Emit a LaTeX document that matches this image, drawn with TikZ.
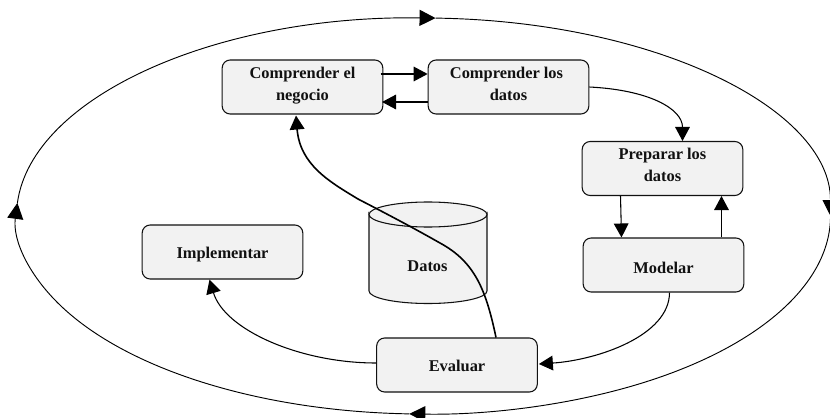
\documentclass[tikz,border=0pt]{standalone}
\usepackage{fontspec}
\setmainfont{Liberation Serif}
\usetikzlibrary{arrows.meta,calc}
\definecolor{boxfill}{HTML}{F2F2F2}
\definecolor{ink}{HTML}{111111}
\newcommand{\liftup}{\rule[-5.5pt]{0pt}{0pt}}
\tikzset{
  stagebox/.style={draw=ink,fill=boxfill,line width=.8pt,rounded corners=6pt,
    minimum width=120.5pt,minimum height=40.5pt,inner sep=0pt,align=center,
    font=\fontsize{12.3}{16.5}\selectfont\bfseries,text=ink},
  flow/.style={draw=black,line width=.8pt,-{Triangle[length=10.5pt,width=11pt]}},
  thickflow/.style={draw=black,line width=1.2pt,-{Triangle[length=10.5pt,width=11pt]}},
  ring/.style={draw=black,line width=.7pt,-{Triangle[length=12pt,width=12pt]}},
  cylbody/.style={draw=ink,fill=boxfill,line width=.8pt},
  lbl/.style={font=\fontsize{12.3}{16.5}\selectfont\bfseries,text=ink,inner sep=0pt}
}
\begin{document}
\begin{tikzpicture}[x=.75pt,y=.75pt]
\useasboundingbox (0,0) rectangle (830,-417);
% outer cycle
\coordinate (ringc) at (423.5,-216);
\draw[ring] (ringc) ++(268:407 and 198) arc[start angle=268,end angle=176.2,x radius=407,y radius=198];
\draw[ring] (ringc) ++(176.2:407 and 198) arc[start angle=176.2,end angle=88.3,x radius=407,y radius=198];
\draw[ring] (ringc) ++(88.3:407 and 198) arc[start angle=88.3,end angle=0,x radius=407,y radius=198];
\draw[ring] (ringc) ++(0:407 and 198) arc[start angle=0,end angle=-92,x radius=407,y radius=198];
% boxes
\node[stagebox] (negocio) at (302.5,-87) {Comprender el\\negocio\liftup};
\node[stagebox] (comdatos) at (508.5,-87) {\hspace*{-3pt}Comprender los\\datos\liftup};
\node[stagebox] (preparar) at (662.5,-168.5) {Preparar los\\datos\liftup};
\node[stagebox] (modelar) at (663.5,-265) {\rule{0pt}{13pt}Modelar};
\node[stagebox] (evaluar) at (457,-365) {\rule{0pt}{10pt}Evaluar};
\node[stagebox] (implementar) at (222.5,-252) {\rule{0pt}{13pt}Implementar};
% database
\path[cylbody] (369,-214) arc[start angle=180,end angle=360,x radius=59,y radius=12.5]
  -- (487,-291) arc[start angle=0,end angle=-180,x radius=59,y radius=12.5] -- cycle;
\path[cylbody] (428,-214.5) ellipse[x radius=59,y radius=12.5];
\node[lbl] (datos) at (427.5,-266) {Datos};
% connectors
\draw[flow] ([yshift=9.75pt,xshift=-2pt]negocio.east) -- ([yshift=9.75pt]comdatos.west);
\draw[flow] ([yshift=-11.25pt]comdatos.west) -- ([yshift=-11.25pt,xshift=-1pt]negocio.east);
\draw[flow] (comdatos.east) .. controls +(60,-3) and ($(preparar.north)+(20,32)$) .. ($(preparar.north)+(20,0)$);
\draw[flow] ($(preparar.south)+(-42,0)$) -- ($(modelar.north)+(-42,0)$);
\draw[flow] ($(modelar.north)+(58,0)$) -- ($(preparar.south)+(59,0)$);
\draw[flow] ($(modelar.south)+(6,0)$) .. controls +(0,-43) and ($(evaluar.east)+(60,5)$) .. ($(evaluar.east)+(1,1)$);
\draw[flow] ($(evaluar.west)+(0,2)$) .. controls +(-77,0) and ($(implementar.south)+(2,-50)$) .. ($(implementar.south)+(-13,0)$);
\coordinate (bendA) at (440,-243);
\coordinate (bendB) at (358,-199);
\draw[thickflow] ($(evaluar.north)+(39,0)$) .. controls (486,-290) and (475,-262) .. (bendA)
  .. controls (410,-226) and (385,-213) .. (bendB)
  .. controls (330,-182) and (300,-165) .. ($(negocio.south)+(-6.5,-1)$);
\end{tikzpicture}
\end{document}
